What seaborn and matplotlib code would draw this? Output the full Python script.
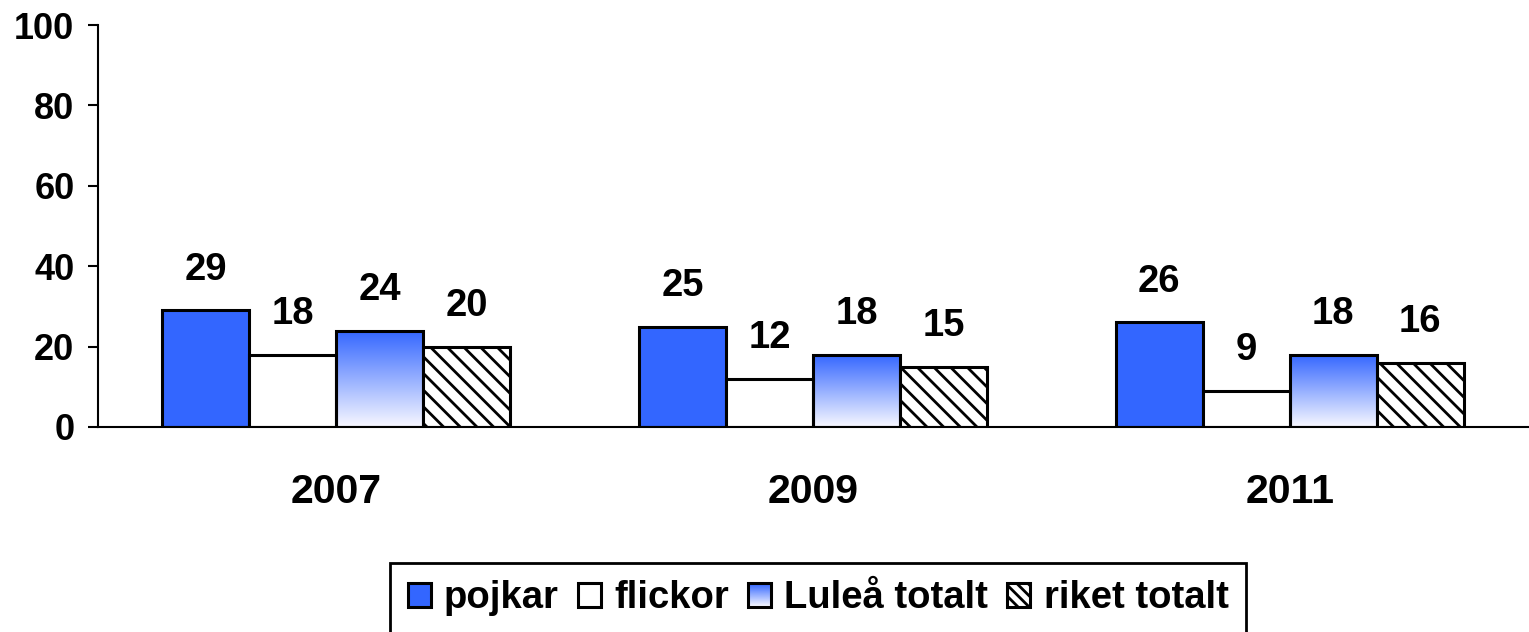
import numpy as np
import pandas as pd
import seaborn as sns
import matplotlib.pyplot as plt
from matplotlib.patches import Rectangle
from matplotlib.legend_handler import HandlerBase
from matplotlib.colors import LinearSegmentedColormap

# ----- Data -----
years = ["2007", "2009", "2011"]
series = ["pojkar", "flickor", "Luleå totalt", "riket totalt"]
pojkar = [29, 25, 26]
flickor = [18, 12, 9]
lulea = [24, 18, 18]
riket = [20, 15, 16]

BLUE = "#3366FF"

df = pd.DataFrame({
    "year": years * 4,
    "group": [s for s in series for _ in years],
    "value": pojkar + flickor + lulea + riket,
})

sns.set_style("white")
plt.rcParams["font.family"] = ["Liberation Sans", "DejaVu Sans"]
plt.rcParams["font.weight"] = "bold"
plt.rcParams["text.color"] = "black"
plt.rcParams["xtick.color"] = "black"
plt.rcParams["ytick.color"] = "black"
plt.rcParams["hatch.linewidth"] = 2.0

fig = plt.figure(figsize=(15.29, 6.32), dpi=100)
ax = fig.add_axes([98 / 1529, 1 - 427 / 632, 1430 / 1529, 402 / 632])

sns.barplot(data=df, x="year", y="value", hue="group", hue_order=series,
            palette=[BLUE, "white", "white", "white"], width=0.73,
            edgecolor="black", linewidth=2.2, saturation=1, legend=False, ax=ax)

grad_cmap = LinearSegmentedColormap.from_list("grad", ["#F8F8FF", BLUE])
grad = np.linspace(0, 1, 256).reshape(-1, 1)

# hatch, gradient fill and value labels
for i, cont in enumerate(ax.containers):
    for bar in cont:
        if i == 3:
            bar.set_hatch("\\\\")
        if i == 2:
            x0, y0 = bar.get_x(), bar.get_y()
            w, h = bar.get_width(), bar.get_height()
            im = ax.imshow(grad, cmap=grad_cmap, origin="lower", aspect="auto",
                           extent=[x0, x0 + w, y0, y0 + h], zorder=bar.get_zorder() - 0.1)
            im.set_clip_path(bar)
            bar.set_facecolor("none")
        ax.annotate(f"{bar.get_height():.0f}", (bar.get_x() + bar.get_width() / 2, bar.get_height()),
                    xytext=(0, 22), textcoords="offset points", ha="center", va="baseline",
                    fontsize=27.5, fontweight="bold", color="black")

ax.set_xlim(-0.5, 2.5)
ax.set_ylim(0, 100)
ax.set_yticks([0, 20, 40, 60, 80, 100])
ax.set_xlabel("")
ax.set_ylabel("")
ax.set_xticks([-0.5, 0.5, 1.5, 2.5], minor=True)
ax.tick_params(axis="x", which="major", length=0, pad=33, labelsize=29.5)
ax.tick_params(axis="x", which="minor", length=7, width=1.5, direction="out")
ax.tick_params(axis="y", length=7, width=1.5, direction="out", pad=10, labelsize=26, left=True)
for lab in ax.get_xticklabels() + ax.get_yticklabels():
    lab.set_fontweight("bold")
sns.despine(ax=ax)
for side in ["left", "bottom"]:
    ax.spines[side].set_color("black")
    ax.spines[side].set_linewidth(1.5)


class GradientHandler(HandlerBase):
    def create_artists(self, legend, orig_handle, xdescent, ydescent, width, height, fontsize, trans):
        arts = []
        n = 24
        for k in range(n):
            c = grad_cmap(1 - k / (n - 1))
            arts.append(Rectangle((-xdescent, -ydescent + height - (k + 1) * height / n), width, height / n,
                                  facecolor=c, edgecolor="none", transform=trans))
        arts.append(Rectangle((-xdescent, -ydescent), width, height, facecolor="none",
                              edgecolor="black", linewidth=2.2, transform=trans))
        return arts


handles = [
    Rectangle((0, 0), 1, 1, facecolor=BLUE, edgecolor="black", linewidth=2.2),
    Rectangle((0, 0), 1, 1, facecolor="white", edgecolor="black", linewidth=2.2),
    Rectangle((0, 0), 1, 1, facecolor="none", edgecolor="black"),
    Rectangle((0, 0), 1, 1, facecolor="white", edgecolor="black", linewidth=2.2, hatch="\\\\\\"),
]
leg = fig.legend(handles, series, loc="upper center", bbox_to_anchor=(818 / 1529, 1 - 563 / 632),
                 ncol=4, fontsize=27.5, frameon=True, fancybox=False, edgecolor="black", framealpha=1,
                 handlelength=0.6, handleheight=0.6, handletextpad=0.35, columnspacing=0.5,
                 borderpad=0.45, borderaxespad=0, handler_map={handles[2]: GradientHandler()})
leg.get_frame().set_linewidth(2)
for t in leg.get_texts():
    t.set_fontweight("bold")
    t.set_color("black")

fig.savefig("out.png", dpi=100)
